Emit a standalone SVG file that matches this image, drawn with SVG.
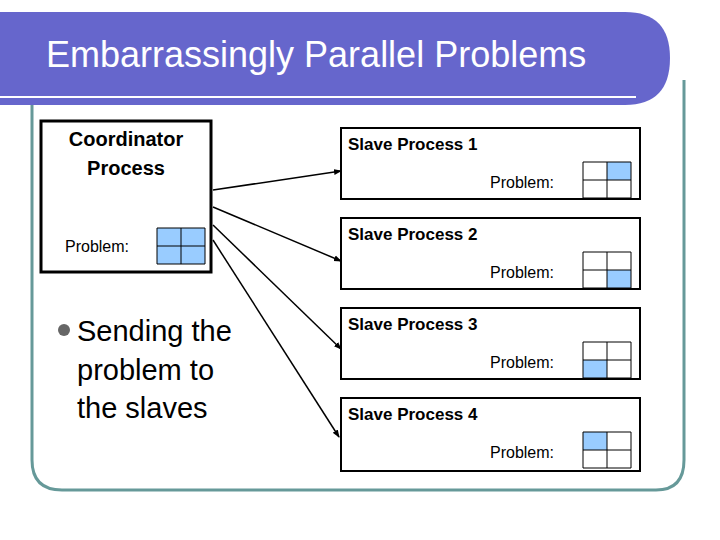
<svg xmlns="http://www.w3.org/2000/svg" width="720" height="540" viewBox="0 0 720 540">
<style>
.b{fill:#fff;stroke:#000;stroke-width:2}
.g{fill:none;stroke:#000;stroke-width:1}
.h{fill:#99ccff}
.t{font-family:"Liberation Sans",Arial,sans-serif;fill:#000}
.sb{font-size:17px;font-weight:bold}
.p{font-size:16px}
.c{stroke:#000;stroke-width:1.5;fill:none;marker-end:url(#a)}
</style>
<defs><marker id="a" markerWidth="8" markerHeight="8" refX="7" refY="4" orient="auto" markerUnits="userSpaceOnUse"><path d="M0,1 L8,4 L0,7z" fill="#000"/></marker></defs>
<rect width="720" height="540" fill="#fff"/>
<path d="M32,70 V460 Q32,490 62,490 H656 Q684,490 684,460 V80" fill="none" stroke="#669999" stroke-width="3"/>
<path d="M0,12 H625 Q670,12 670,58 Q670,105 625,105 H0z" fill="#6666cc"/>
<line x1="0" y1="97" x2="636" y2="97" stroke="#fff" stroke-width="2"/>
<text x="46" y="67" class="t" style="font-size:36px;fill:#fff">Embarrassingly Parallel Problems</text>
<g id="coord">
<rect x="41" y="121" width="170" height="151" fill="#fff" stroke="#000" stroke-width="3"/>
<text x="126" y="146" class="t" text-anchor="middle" style="font-size:20px;font-weight:bold">Coordinator</text>
<text x="126" y="175" class="t" text-anchor="middle" style="font-size:20px;font-weight:bold">Process</text>
<text x="65" y="252" class="t p">Problem:</text>
<rect x="157" y="228" width="48" height="36" class="h"/><path d="M157,228h48v36h-48zM181,228v36M157,246h48" class="g"/>
</g>
<g id="s1"><rect x="341" y="128" width="299" height="71" class="b"/>
<text x="348" y="150" class="t sb">Slave Process 1</text><text x="490" y="188" class="t p">Problem:</text>
<rect x="607" y="162" width="24" height="18" class="h"/><path d="M583,162h48v36h-48zM607,162v36M583,180h48" class="g"/></g>
<g id="s2"><rect x="341" y="218" width="299" height="71" class="b"/>
<text x="348" y="240" class="t sb">Slave Process 2</text><text x="490" y="278" class="t p">Problem:</text>
<rect x="607" y="270" width="24" height="18" class="h"/><path d="M583,252h48v36h-48zM607,252v36M583,270h48" class="g"/></g>
<g id="s3"><rect x="341" y="308" width="299" height="71" class="b"/>
<text x="348" y="330" class="t sb">Slave Process 3</text><text x="490" y="368" class="t p">Problem:</text>
<rect x="583" y="360" width="24" height="18" class="h"/><path d="M583,342h48v36h-48zM607,342v36M583,360h48" class="g"/></g>
<g id="s4"><rect x="341" y="398" width="299" height="73" class="b"/>
<text x="348" y="420" class="t sb">Slave Process 4</text><text x="490" y="458" class="t p">Problem:</text>
<rect x="583" y="432" width="24" height="18" class="h"/><path d="M583,432h48v36h-48zM607,432v36M583,450h48" class="g"/></g>
<g id="connectors">
<line x1="213" y1="190" x2="341" y2="171" class="c"/>
<line x1="213" y1="207" x2="341" y2="261" class="c"/>
<line x1="213" y1="225" x2="341" y2="349" class="c"/>
<line x1="213" y1="240" x2="339" y2="437" class="c"/>
</g>
<circle cx="64" cy="330" r="6" fill="#666"/>
<text class="t" style="font-size:29px"><tspan x="77" y="341">Sending the</tspan><tspan x="77" y="380">problem to</tspan><tspan x="77" y="418">the slaves</tspan></text>
</svg>
